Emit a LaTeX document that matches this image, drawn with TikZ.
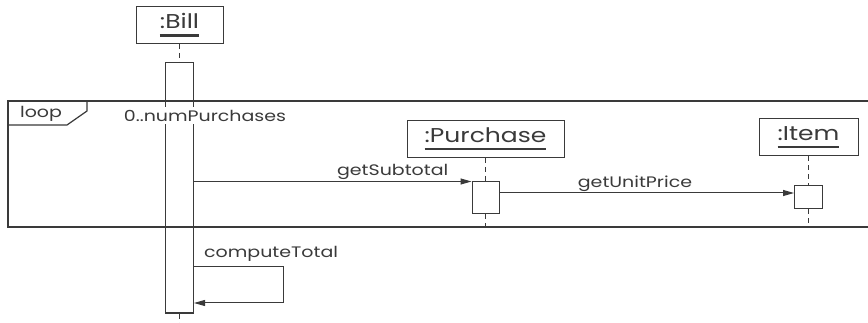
\documentclass[tikz,border=0pt]{standalone}
\usepackage{fontspec}
\newfontfamily\umlfont{Poppins}[FakeStretch=1.25]
\usepackage{tikz}
\usetikzlibrary{arrows.meta,positioning,calc}
\definecolor{umlInk}{HTML}{3A3A3A}
\newcommand{\objname}[1]{\setbox0\hbox{#1}\rlap{\copy0}\rule[-8pt]{\wd0}{2.8pt}}

\begin{document}
\begin{tikzpicture}[x=1pt, y=-1pt,
    objbox/.style={rectangle, draw=umlInk, line width=1pt, inner sep=0pt,
                   minimum height=37pt, font=\umlfont\fontsize{20}{20}\selectfont, text=umlInk},
    actbar/.style={rectangle, draw=umlInk, line width=1pt, fill=white,
                   inner sep=0pt, minimum width=28pt},
    lifeline/.style={draw=umlInk, dash pattern=on 5pt off 4pt, line width=1pt},
    msg/.style={-{Triangle[length=11pt,width=6pt]}, draw=umlInk, line width=1pt},
    lbl/.style={font=\umlfont\fontsize{15.2}{16}\selectfont, text=umlInk, inner sep=1pt},
    loopframe/.style={draw=umlInk, line width=1.2pt},
]
    \useasboundingbox[fill=white] (0,0) rectangle (868,323);
    % objects
    \node[objbox, minimum width=87pt] (bill) at (179.5,25) {\objname{:Bill}};
    \node[objbox, minimum width=157pt] (purchase) at (485.5,139) {\objname{:Purchase}};
    \node[objbox, minimum width=99pt] (item) at (808.5,137.5) {\objname{:Item}};
    % lifelines and activations
    \node[actbar, minimum height=250pt] (billact) at (179.5,188) {};
    \node[actbar, minimum height=32pt, minimum width=27pt] (purchaseact) at (485.5,198) {};
    \node[actbar, minimum height=23pt] (itemact) at (808.5,197.5) {};
    \coordinate (billend) at (179.5,323);
    \coordinate (purchaseend) at (485.5,227);
    \coordinate (itemend) at (808.5,227);
    \draw[lifeline] (bill) -- (billact);
    \draw[lifeline] (billact) -- (billend);
    \draw[lifeline] (purchase) -- (purchaseact);
    \draw[lifeline] (purchaseact) -- (purchaseend);
    \draw[lifeline] (item) -- (itemact);
    \draw[lifeline] (itemact) -- (itemend);
    % loop fragment
    \draw[loopframe] (868,101) -| (8,227) -- (868,227);
    \draw[loopframe] (8,125) -- (67,125) -- (87,111) -- (87,101);
    \node[lbl] (looptag) at (41,113.5) {loop};
    \node[lbl, fill=white, inner ysep=3pt] (guard) at (205,115.5) {0..numPurchases};
    % messages
    \coordinate (unitprice) at (0,193);
    \coordinate (selfout) at (283,267);
    \coordinate (selfin) at (283,303);
    \draw[msg] (billact.east |- purchaseact.north) --
        node[lbl, above, pos=0.716] (subtotal) {getSubtotal} (purchaseact.north west);
    \draw[msg] (purchaseact.east |- unitprice) --
        node[lbl, above, pos=0.46] (unitlbl) {getUnitPrice} (itemact.west |- unitprice);
    \draw[msg] (billact.east |- selfout) -- (selfout) -- (selfin) -- (billact.east |- selfin);
    \node[lbl, anchor=base west] (totallbl) at (203,258) {computeTotal};
\end{tikzpicture}
\end{document}
